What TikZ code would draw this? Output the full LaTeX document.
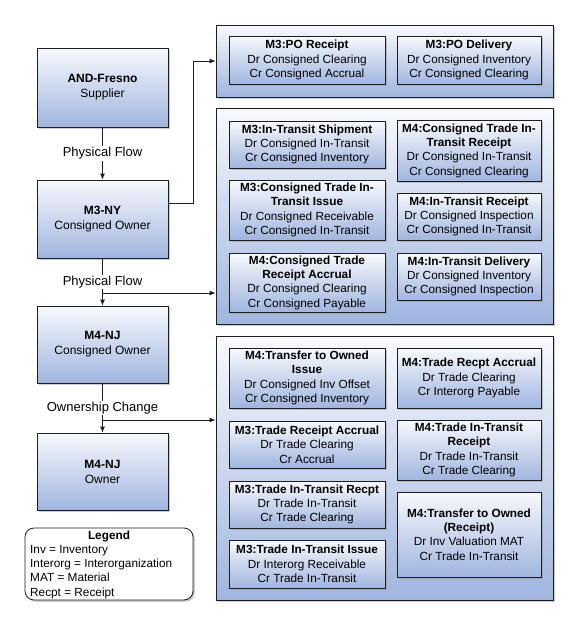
\documentclass[tikz,border=0pt]{standalone}
\usepackage{fontspec}
\setmainfont{Liberation Sans}
\usetikzlibrary{shadows,arrows.meta}
\definecolor{topc}{RGB}{247,249,253}
\definecolor{botc}{RGB}{160,181,223}
\definecolor{edgec}{RGB}{30,30,30}
\tikzset{
  shadowed/.style={drop shadow={shadow xshift=1.8pt,shadow yshift=-1.8pt,fill=black!45,opacity=.45}},
  gradbox/.style={draw=edgec, line width=0.8pt, top color=topc, bottom color=botc, shadowed,
    align=center, inner sep=1pt, font=\fontsize{11.8}{14.3}\selectfont},
  panel/.style={gradbox, minimum width=337pt},
  lcol/.style={gradbox, minimum width=156pt},
  rcol/.style={gradbox, minimum width=144pt},
  party/.style={gradbox, minimum width=131pt, font=\fontsize{12}{15}\selectfont},
  flowlabel/.style={fill=white, inner sep=1pt, font=\fontsize{13}{15}\selectfont},
  conn/.style={draw=edgec, line width=0.8pt},
  arr/.style={conn, -{Latex[length=6pt,width=5pt]}},
}
\begin{document}
\begin{tikzpicture}[x=1pt,y=-1pt]
\useasboundingbox (0,0) rectangle (576,624);
% panels
\node[panel, minimum height=72pt] (p1) at (384.5,61) {};
\node[panel, minimum height=216pt] (p2) at (384.5,216) {};
\node[panel, minimum height=264pt] (p3) at (384.5,468) {};
% left party boxes
\node[party, minimum height=79pt] (fresno) at (102.5,87.5) {\textbf{AND-Fresno}\\Supplier};
\node[party, minimum height=78pt] (m3ny) at (102.5,219) {\textbf{M3-NY}\\Consigned Owner};
\node[party, minimum height=77pt] (m4c) at (102.5,344.5) {\textbf{M4-NJ}\\Consigned Owner};
\node[party, minimum height=77pt] (m4o) at (102.5,471.5) {\textbf{M4-NJ}\\Owner};
% panel 1
\node[lcol, minimum height=48pt] (a1) at (307,60) {\textbf{M3:PO Receipt}\\Dr Consigned Clearing\\Cr Consigned Accrual};
\node[rcol, minimum height=48pt] (a2) at (469,60) {\textbf{M3:PO Delivery}\\Dr Consigned Inventory\\Cr Consigned Clearing};
% panel 2
\node[lcol, minimum height=47pt] (b1) at (307,144.5) {\textbf{M3:In-Transit Shipment}\\Dr Consigned In-Transit\\Cr Consigned Inventory};
\node[rcol, minimum height=61pt] (b2) at (469,150.5) {\textbf{M4:Consigned Trade In-}\\\textbf{Transit Receipt}\\Dr Consigned In-Transit\\Cr Consigned Clearing};
\node[lcol, minimum height=60pt] (b3) at (307,210) {\textbf{M3:Consigned Trade In-}\\\textbf{Transit Issue}\\Dr Consigned Receivable\\Cr Consigned In-Transit};
\node[rcol, minimum height=47pt] (b4) at (469,216.5) {\textbf{M4:In-Transit Receipt}\\Dr Consigned Inspection\\Cr Consigned In-Transit};
\node[lcol, minimum height=59pt] (b5) at (307,282.5) {\textbf{M4:Consigned Trade}\\\textbf{Receipt Accrual}\\Dr Consigned Clearing\\Cr Consigned Payable};
\node[rcol, minimum height=47pt] (b6) at (469,276.5) {\textbf{M4:In-Transit Delivery}\\Dr Consigned Inventory\\Cr Consigned Inspection};
% panel 3
\node[lcol, minimum height=60pt] (c1) at (307,378) {\textbf{M4:Transfer to Owned}\\\textbf{Issue}\\Dr Consigned Inv Offset\\Cr Consigned Inventory};
\node[rcol, minimum height=60pt] (c2) at (469,378) {\textbf{M4:Trade Recpt Accrual}\\Dr Trade Clearing\\Cr Interorg Payable};
\node[lcol, minimum height=47pt] (c3) at (307,444.5) {\textbf{M3:Trade Receipt Accrual}\\Dr Trade Clearing\\Cr Accrual};
\node[rcol, minimum height=60pt] (c4) at (469,450) {\textbf{M4:Trade In-Transit}\\\textbf{Receipt}\\Dr Trade In-Transit\\Cr Trade Clearing};
\node[lcol, minimum height=47pt] (c5) at (307,504.5) {\textbf{M3:Trade In-Transit Recpt}\\Dr Trade In-Transit\\Cr Trade Clearing};
\node[lcol, minimum height=48pt] (c6) at (307,564) {\textbf{M3:Trade In-Transit Issue}\\Dr Interorg Receivable\\Cr Trade In-Transit};
\node[rcol, minimum height=85pt] (c7) at (469,534.5) {\textbf{M4:Transfer to Owned}\\\textbf{(Receipt)}\\Dr Inv Valuation MAT\\Cr Trade In-Transit};
% connectors
\draw[arr] (fresno) -- node[flowlabel] (l1) {Physical Flow} (m3ny);
\coordinate (m3out) at (168,203);
\coordinate (bend1) at (193,203);
\draw[arr] (m3out) -- (bend1) |- (p1.west);
\coordinate (br1) at (102.5,293);
\draw[arr] (m3ny) -- (m4c);
\node[flowlabel] (l2) at (102.5,282) {Physical Flow};
\draw[arr] (br1) -- (br1 -| p2.west);
\coordinate (br2) at (102.5,420);
\draw[arr] (m4c) -- (m4o);
\node[flowlabel] (l3) at (102.5,408) {Ownership Change};
\draw[arr] (br2) -- (br2 -| p3.west);
% legend
\node[draw=edgec, line width=0.8pt, rounded corners=9pt, fill=white, shadowed,
  minimum width=168pt, minimum height=72pt] (leg) at (109,564) {};
\node[font=\fontsize{11.8}{14.3}\selectfont\bfseries] (legt) at (109,536) {Legend};
\node[font=\fontsize{11.8}{14.3}\selectfont, align=left, anchor=north west, inner sep=0pt] (legb) at (30,545)
  {Inv = Inventory\\Interorg = Interorganization\\MAT = Material\\Recpt = Receipt};
\end{tikzpicture}
\end{document}
